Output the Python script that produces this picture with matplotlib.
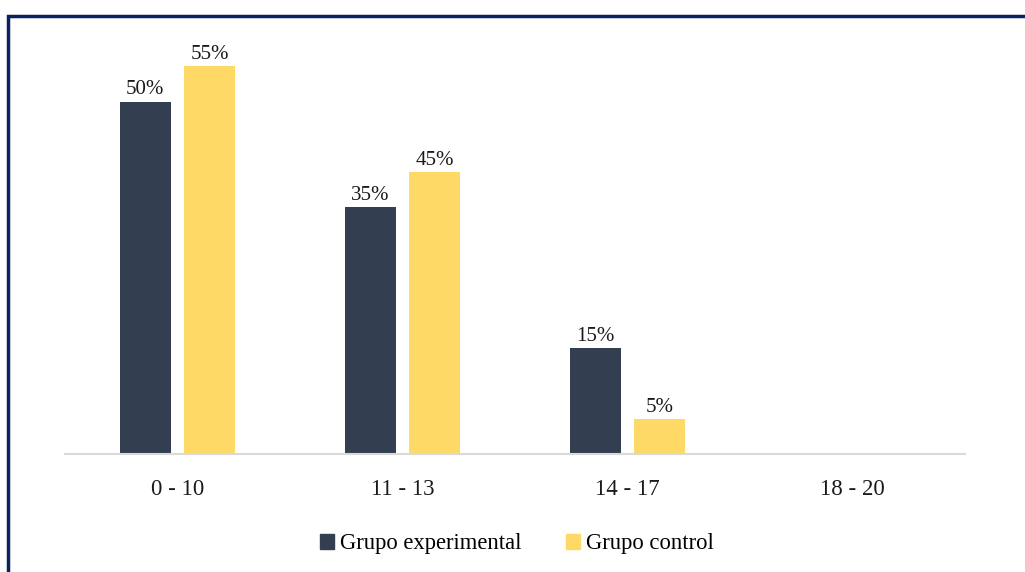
import numpy as np
import matplotlib.pyplot as plt
from matplotlib.patches import Rectangle, Patch

plt.rcParams['font.family'] = ['Liberation Serif', 'DejaVu Serif']

# Data
categories = ['0 - 10', '11 - 13', '14 - 17', '18 - 20']
experimental = [50, 35, 15, 0]
control = [55, 40, 5, 0]
exp_labels = ['50%', '35%', '15%', '']
ctrl_labels = ['55%', '45%', '5%', '']

dark = '#333F50'
yellow = '#FFD966'

fig = plt.figure(figsize=(10.25, 5.72), dpi=100)
ax = fig.add_axes([65 / 1025, 1 - 454 / 572, 900 / 1025, 423 / 572])

x = np.arange(len(categories))
w = 0.227
off = 0.144
b1 = ax.bar(x - off, experimental, w, color=dark)
b2 = ax.bar(x + off, control, w, color=yellow)

for bars, labels in ((b1, exp_labels), (b2, ctrl_labels)):
    for bar, lab in zip(bars, labels):
        if lab:
            ax.text(bar.get_x() + bar.get_width() / 2, bar.get_height() + 0.3, lab,
                    ha='center', va='bottom', fontsize=15, color='#1a1a1a')

ax.set_xlim(-0.5, len(categories) - 0.5)
ax.set_ylim(0, 60)
ax.set_xticks(x)
ax.set_xticklabels(categories, fontsize=16.5, color='#1a1a1a')
ax.tick_params(axis='x', length=0, pad=18)
ax.set_yticks([])
for s in ['top', 'right', 'left']:
    ax.spines[s].set_visible(False)
ax.spines['bottom'].set_color('#D9D9D9')
ax.spines['bottom'].set_linewidth(1.5)

handles = [Patch(color=dark, label='Grupo experimental'),
           Patch(color=yellow, label='Grupo control')]
fig.legend(handles=handles, loc='center', bbox_to_anchor=(517 / 1025, 1 - 544 / 572),
           ncol=2, frameon=False, fontsize=16.3, handlelength=0.6, handleheight=0.6,
           handletextpad=0.25, columnspacing=2.0)

# Outer border (runs off the right and bottom edges)
fig.patches.append(Rectangle((7.5 / 1025, -0.1), 1.2, 1 - 15.5 / 572 + 0.1,
                             transform=fig.transFigure, fill=False,
                             edgecolor='#0B2160', linewidth=2.5))

fig.savefig('out.png', dpi=100)
